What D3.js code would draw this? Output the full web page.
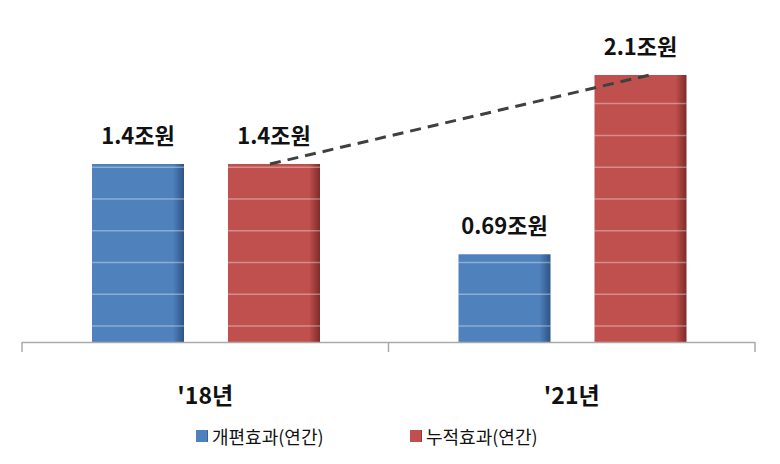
<!DOCTYPE html>
<html><head><meta charset="utf-8">
<script src="https://cdn.jsdelivr.net/npm/d3@7"></script>
<style>body{margin:0;background:#fff}text{font-family:"Noto Sans CJK KR","Noto Sans",sans-serif}</style>
</head><body><svg id="c" width="780" height="464"></svg>
<script>
const categories = ["'18년", "'21년"];
const seriesNames = ["개편효과(연간)", "누적효과(연간)"];
const reform = [1.4, 0.69];
const cumulative = [1.4, 2.1];
const valueLabels = [["1.4조원", "0.69조원"], ["1.4조원", "2.1조원"]];
const gridValues = [0.125,0.375,0.625,0.875,1.125,1.375,1.625,1.875];

const svg = d3.select("#c");
const colors = ["#4f81bd", "#c0504d"];
const dark = ["#2e5485", "#7e2b29"];
const defs = svg.append("defs");
colors.forEach((c,i)=>{
  const g = defs.append("linearGradient").attr("id","g"+i);
  g.append("stop").attr("offset","0").attr("stop-color",c);
  g.append("stop").attr("offset","0.88").attr("stop-color",c);
  g.append("stop").attr("offset","1").attr("stop-color",dark[i]);
});
const x0 = d3.scaleBand().domain(categories).range([22,755]);
const x1 = d3.scaleBand().domain([0,1]).range([70,298]).paddingInner(44/136).paddingOuter(0);
const y = d3.scaleLinear().domain([0,2.1]).range([342,75]);
const series = [reform, cumulative];
const data = [];
categories.forEach((c,ci)=>series.forEach((s,si)=>data.push({c,ci,si,v:s[ci]})));
const bx = d => x0(d.c) + x1(d.si);
const bw = x1.bandwidth();

data.forEach(d=>{
  const g = svg.append("g");
  g.append("rect").attr("x",bx(d)).attr("y",y(d.v)).attr("width",bw).attr("height",y(0)-y(d.v)).attr("fill",`url(#g${d.si})`);
  gridValues.filter(v=>v<d.v).forEach(v=>{
    g.append("line").attr("x1",bx(d)).attr("x2",bx(d)+bw).attr("y1",y(v)).attr("y2",y(v)).attr("stroke","#fff").attr("stroke-opacity",0.35).attr("stroke-width",1.5);
  });
  svg.append("text").attr("x",bx(d)+bw/2).attr("y",y(d.v)-20).attr("text-anchor","middle")
    .attr("font-size",22).attr("font-weight","bold").attr("fill","#111").text(valueLabels[d.si][d.ci]);
});
svg.append("line").attr("x1",22).attr("x2",755).attr("y1",342.5).attr("y2",342.5).attr("stroke","#aaa").attr("stroke-width",1.5);
[22, x0(categories[1]), 755].forEach(t=>svg.append("line").attr("x1",t).attr("x2",t).attr("y1",342).attr("y2",352).attr("stroke","#aaa").attr("stroke-width",1.5));
categories.forEach(c=>svg.append("text").attr("x",x0(c)+x0.bandwidth()/2).attr("y",404).attr("text-anchor","middle")
  .attr("font-size",23).attr("font-weight","bold").attr("fill","#111").text(c));
const a = data[1], b = data[3];
svg.append("line").attr("x1",bx(a)+bw/2-4).attr("y1",y(a.v)).attr("x2",bx(b)+bw/2+9).attr("y2",y(b.v))
  .attr("stroke","#404040").attr("stroke-width",3).attr("stroke-dasharray","11,7");
const lx = [196, 410];
seriesNames.forEach((n,i)=>{
  svg.append("rect").attr("x",lx[i]).attr("y",430).attr("width",12).attr("height",12).attr("fill",`url(#g${i})`);
  svg.append("text").attr("x",lx[i]+16).attr("y",444).attr("font-size",18).attr("fill","#111").text(n);
});
</script></body></html>
